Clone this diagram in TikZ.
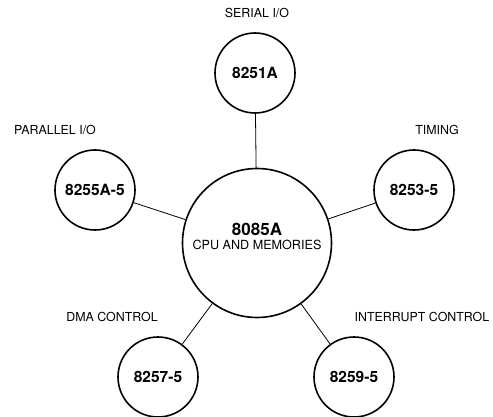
\documentclass[tikz,border=0pt]{standalone}
\usepackage{fontspec}
\setmainfont{TeX Gyre Heros}
\usetikzlibrary{positioning}
\tikzset{chip/.style={draw,circle,line width=1.6pt,minimum size=80pt,inner sep=0pt,font=\fontsize{15.5}{17}\selectfont\bfseries}}
\tikzset{cpu/.style={draw,circle,line width=1.6pt,minimum size=149pt,inner sep=0pt}}
\tikzset{lbl/.style={font=\fontsize{12.4}{14}\selectfont}}
\tikzset{bus/.style={line width=0.8pt}}

\begin{document}
\begin{tikzpicture}[x=1pt,y=-1pt]
    \useasboundingbox (0,0) rectangle (493,417);

    \node[cpu] (cpu) at (257, 243) {};
    \node[anchor=base,inner sep=0pt,font=\fontsize{17}{19}\selectfont\bfseries] (cpun) at (257, 235) {8085A};
    \node[anchor=base,inner sep=0pt,font=\fontsize{12.6}{14}\selectfont] (cput) at (257, 249.5) {CPU AND MEMORIES};

    \node[chip] (ser) at (255, 73) {8251A};
    \node[chip] (par) at (95, 190) {8255A-5};
    \node[chip] (tim) at (414, 190) {8253-5};
    \node[chip] (dma) at (158, 377) {8257-5};
    \node[chip] (int) at (354, 377) {8259-5};

    \node[lbl] (serl) at (257, 13) {SERIAL I/O};
    \node[lbl] (parl) at (55, 130) {PARALLEL I/O};
    \node[lbl] (timl) at (437, 130) {TIMING};
    \node[lbl] (dmal) at (112, 317) {DMA CONTROL};
    \node[lbl] (intl) at (422, 317) {INTERRUPT CONTROL};

    \draw[bus] (cpu) -- (ser);
    \draw[bus] (cpu) -- (par);
    \draw[bus] (cpu) -- (tim);
    \draw[bus] (cpu) -- (dma);
    \draw[bus] (cpu) -- (int);
\end{tikzpicture}
\end{document}
